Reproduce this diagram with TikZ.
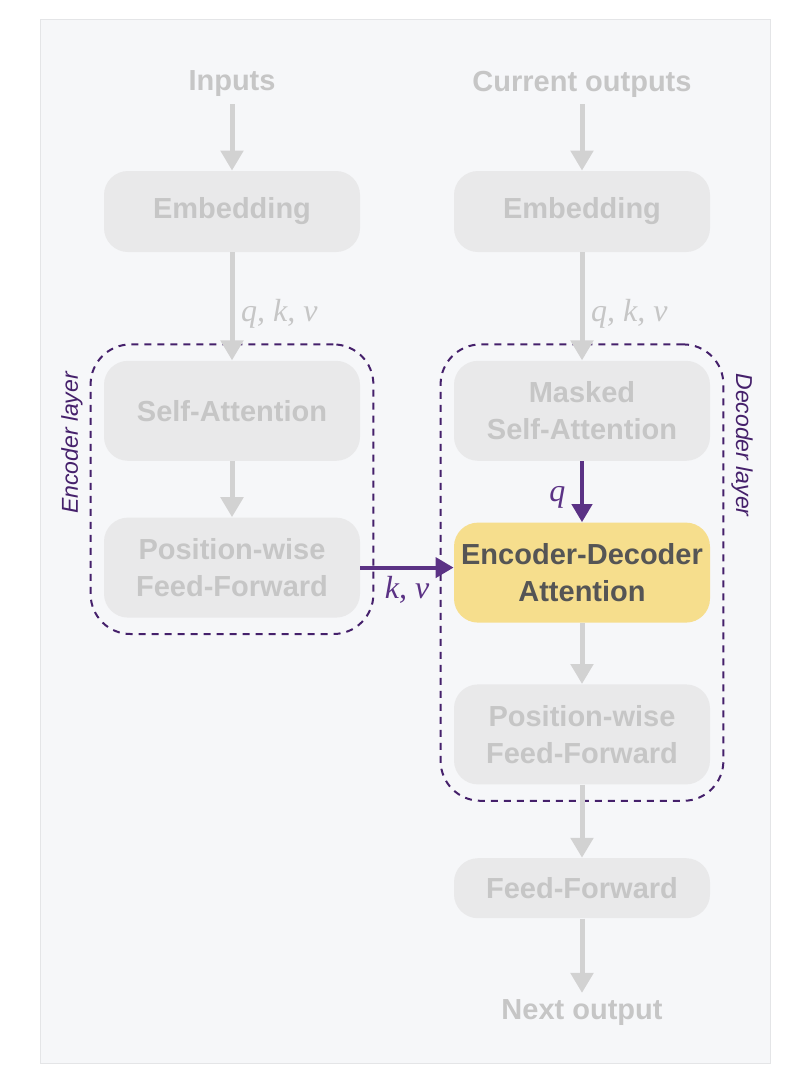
\documentclass[tikz,border=0pt]{standalone}
\usepackage{amsmath}
\usepackage{fontspec}
\setmainfont{Liberation Sans}
\newfontfamily\varfont{Liberation Serif}
\usetikzlibrary{positioning, arrows.meta, fit}
\definecolor{panel}{HTML}{F6F7F9}
\definecolor{panelline}{HTML}{E4E5E7}
\definecolor{boxfill}{HTML}{E9E9EA}
\definecolor{boxtext}{HTML}{C6C6C6}
\definecolor{arrowgray}{HTML}{D2D2D2}
\definecolor{hlfill}{HTML}{F6DE8D}
\definecolor{hltext}{HTML}{555555}
\definecolor{layerpurple}{HTML}{45206B}
\definecolor{flowpurple}{HTML}{5B3285}
\newcommand{\Var}[1]{{\varfont\itshape #1}}
\tikzset{
    block/.style={rectangle, rounded corners=12pt, fill=boxfill, text=boxtext,
      font=\bfseries\fontsize{14.5}{18.5}\selectfont, align=center,
      minimum width=128pt, minimum height=50pt, inner sep=0pt},
    title/.style={text=boxtext, font=\bfseries\fontsize{14.5}{18.5}\selectfont},
    flow/.style={draw=arrowgray, line width=2.5pt, -{Triangle[width=11pt,length=10pt]}},
    cross/.style={draw=flowpurple, line width=2pt, -{Triangle[width=10pt,length=9pt]}},
    layer/.style={draw=layerpurple, line width=1pt, dash pattern=on 3.5pt off 3pt,
      rounded corners=20pt, inner xsep=6.5pt, inner ysep=8pt},
    layername/.style={text=layerpurple, font=\itshape\fontsize{11.5}{13}\selectfont},
    vars/.style={font=\fontsize{16}{18}\selectfont},
}

\begin{document}
\begin{tikzpicture}[x=0.5pt, y=-0.5pt]
    \useasboundingbox (0,0) rectangle (791,1083);
    \draw[panelline, fill=panel] (40,19) rectangle (770,1063);

    % encoder side
    \node[title] (in) at (232,84) {Inputs};
    \node[block, minimum height=40.5pt] (e0) at (232,211.5) {Embedding};
    \node[block, below=54pt of e0] (e1) {Self-Attention};
    \node[block, below=28pt of e1] (e2) {Position-wise\\Feed-Forward};

    % decoder side
    \node[title] (out) at (582,84) {Current outputs};
    \node[block, minimum height=40.5pt] (d0) at (582,211.5) {Embedding};
    \node[block, below=54pt of d0] (d1) {Masked\\Self-Attention};
    \node[block, fill=hlfill, text=hltext, below=30.5pt of d1] (d2) {Encoder-Decoder\\Attention};
    \node[block, below=30.5pt of d2] (d3) {Position-wise\\Feed-Forward};
    \node[block, minimum height=30pt, below=36.5pt of d3] (d4) {Feed-Forward};
    \node[title] (next) at (582,1013) {Next output};

    % layers
    \node[layer, fit=(e1)(e2)] (enc) {};
    \node[layer, fit=(d1)(d3)] (dec) {};
    \node[layername, rotate=90] (enclabel) at (72,443) {Encoder layer};
    \node[layername, rotate=-90] (declabel) at (742,445) {Decoder layer};

    \draw[flow] (in) -- (e0);
    \draw[flow] (e0) -- node[vars, right, pos=0.57, text=boxtext]{\Var{q, k, v}} (e1);
    \draw[flow] (e1) -- (e2);

    \draw[flow] (out) -- (d0);
    \draw[flow] (d0) -- node[vars, right, pos=0.57, text=boxtext]{\Var{q, k, v}} (d1);
    \draw[cross] (d1) -- node[vars, left, pos=0.6, xshift=-4pt, text=flowpurple]{\Var{q}} (d2);
    \draw[flow] (d2) -- (d3);
    \draw[flow] (d3) -- (d4);
    \draw[flow] (d4) -- (next);

    \draw[cross] (e2.east) -- node[vars, below, text=flowpurple]{\Var{k, v}} (e2.east -| d2.west);
\end{tikzpicture}
\end{document}
